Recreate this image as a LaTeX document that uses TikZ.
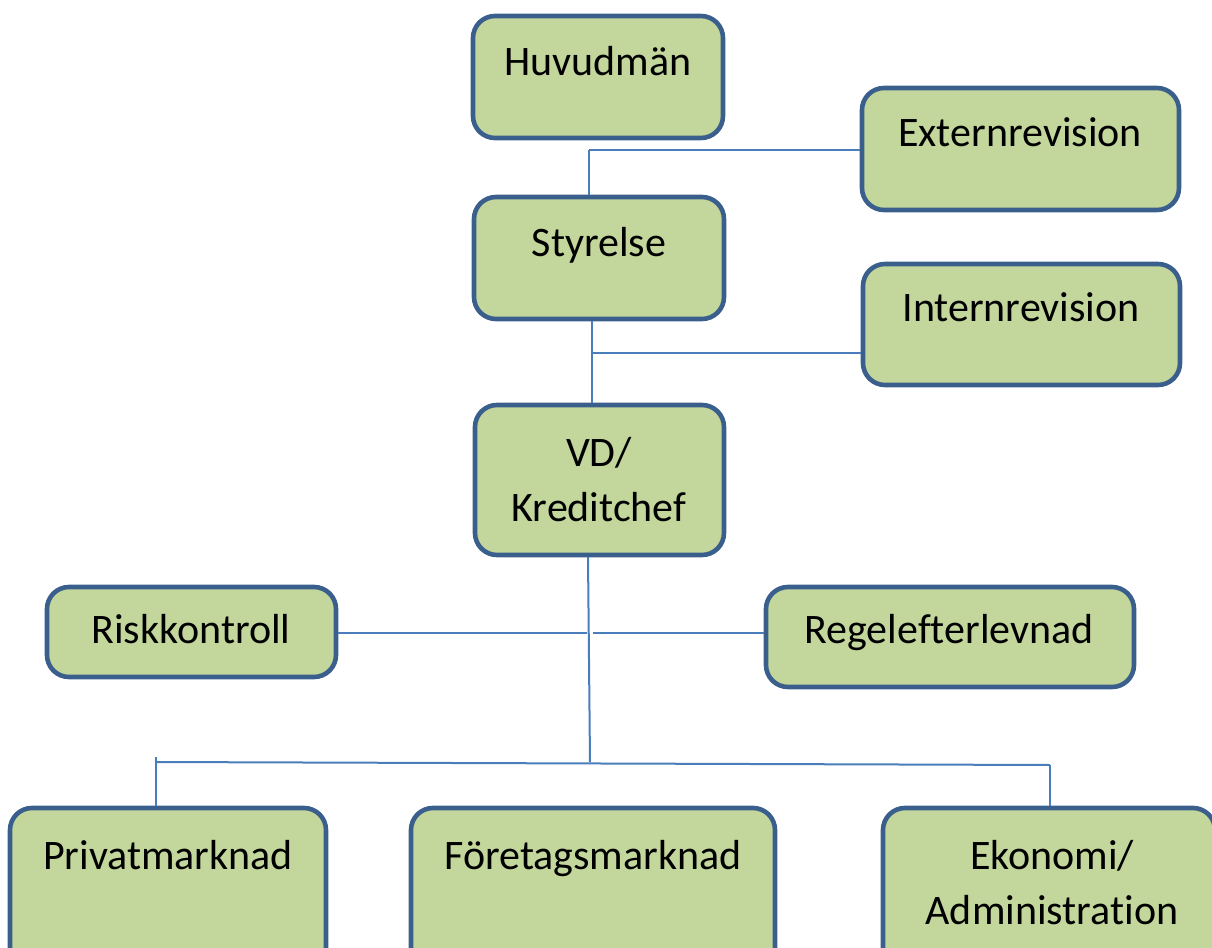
\documentclass[tikz,border=0pt]{standalone}
\usepackage{fontspec}
\setmainfont[Ligatures=NoCommon]{Carlito}
\definecolor{boxfill}{HTML}{C3D69B}
\definecolor{boxline}{HTML}{3B5F8D}
\definecolor{connline}{HTML}{4A7EBB}
\begin{document}
\begin{tikzpicture}[x=0.5pt,y=-0.5pt,
  box/.style={draw=boxline, fill=boxfill, line width=2.3pt, rounded corners=11pt, inner sep=0pt},
  lbl/.style={anchor=base, inner sep=0pt, font=\fontsize{21}{27.5}\selectfont},
  conn/.style={draw=connline, line width=1pt}]
\useasboundingbox (0,0) rectangle (1212,948);
% junction coordinates
\coordinate (j1) at (589,150);
\coordinate (j2) at (592,353);
\coordinate (vdb) at (588,557);
\coordinate (j3) at (590,762);
\coordinate (rr) at (587,633);
\coordinate (rl) at (593,633);
\coordinate (bl) at (156,762);
\coordinate (blt) at (156,757);
\coordinate (br) at (1050,765);
% boxes
\node[box, minimum width=125pt, minimum height=61pt] (huv) at (598,77) {};
\node[box, minimum width=158.5pt, minimum height=61pt] (ext) at (1020.5,149) {};
\node[box, minimum width=125pt, minimum height=61pt] (sty) at (599,258) {};
\node[box, minimum width=158.5pt, minimum height=60.5pt] (int) at (1021.5,324.5) {};
\node[box, minimum width=124.5pt, minimum height=75pt] (vd) at (599.5,480) {};
\node[box, minimum width=144.5pt, minimum height=45pt] (risk) at (191.5,632) {};
\node[box, minimum width=184pt, minimum height=50pt] (reg) at (950,637) {};
\node[box, minimum width=158pt, minimum height=81pt] (priv) at (168,889) {};
\node[box, minimum width=182pt, minimum height=81pt] (fore) at (593,889) {};
\node[box, minimum width=166pt, minimum height=81pt] (eko) at (1049,889) {};
% connectors
\draw[conn] (j1) -- (j1 |- sty.north);
\draw[conn] (j1) -- (j1 -| ext.west);
\draw[conn] (j2 |- sty.south) -- (j2 |- vd.north);
\draw[conn] (j2) -- (j2 -| int.west);
\draw[conn] (vdb) -- (j3);
\draw[conn] (risk.east |- rr) -- (rr);
\draw[conn] (rl) -- (rl -| reg.west);
\draw[conn] (bl) -- (br);
\draw[conn] (blt) -- (blt |- priv.north);
\draw[conn] (br) -- (br |- eko.north);
% labels
\node[lbl] (thuv) at (598,75) {Huvudmän};
\node[lbl] (text) at (1020,146) {Externrevision};
\node[lbl] (tsty) at (599,256) {Styrelse};
\node[lbl] (tint) at (1021,321) {Internrevision};
\node[lbl] (tvd1) at (599,466) {VD/};
\node[lbl] (tvd2) at (599,521) {Kreditchef};
\node[lbl] (trisk) at (191,643) {Riskkontroll};
\node[lbl] (treg) at (949,643) {Regelefterlevnad};
\node[lbl] (tpriv) at (168,869) {Privatmarknad};
\node[lbl] (tfore) at (593,869) {Företagsmarknad};
\node[lbl] (teko1) at (1052,869) {Ekonomi/};
\node[lbl] (teko2) at (1052,924) {Administration};
\end{tikzpicture}
\end{document}
